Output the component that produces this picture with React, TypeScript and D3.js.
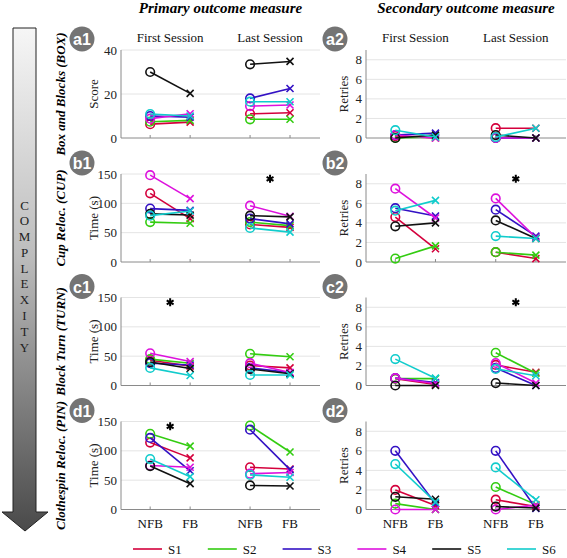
import React from "react";
import * as d3 from "d3";

// ---------- data ----------
const subjects = ["S1", "S2", "S3", "S4", "S5", "S6"];
const subjectColors = ["#d4003c", "#33cc11", "#3311c4", "#dd11dd", "#111111", "#11cccc"];
const sessions = ["First Session", "Last Session"];
const conditions = ["NFB", "FB"];
const rowTitles = ["Box and Blocks (BOX)", "Cup Reloc. (CUP)", "Block Turn (TURN)", "Clothespin Reloc. (PIN)"];
const rowBadges = ["a", "b", "c", "d"];
const primaryLabels = ["Score", "Time (s)", "Time (s)", "Time (s)"];
const primaryMax = [40, 150, 150, 150];
const primaryTicks = [[0, 20, 40], [0, 50, 100, 150], [0, 50, 100, 150], [0, 50, 100, 150]];
const secondaryLabel = "Retries";
const secondaryMax = 9;
const secondaryTicks = [0, 2, 4, 6, 8];

// values per subject: [NFB first, FB first, NFB last, FB last]
const a1Score = [
  [6.3, 7.2, 11, 11.5],
  [7.4, 8, 8.5, 8.5],
  [10, 9.5, 18, 22.5],
  [8.8, 11, 14.5, 15],
  [30, 20.3, 33.5, 34.8],
  [10.9, 10, 16.5, 16.5],
];
const a2Retries = [
  [0.2, 0, 1, 1],
  [0, 0.1, 0, 0],
  [0.3, 0.5, 0, 0],
  [0.3, 0, 0, 0],
  [0, 0.3, 0.3, 0],
  [0.8, 0.1, 0.1, 1],
];
const b1Time = [
  [117, 74, 64, 59],
  [68, 66, 68, 62],
  [91, 88, 74, 65],
  [148, 108, 96, 78],
  [82, 80, 79, 77],
  [79, 87, 58, 51],
];
const b2Retries = [
  [4.6, 1.35, 1.0, 0.35],
  [0.35, 1.65, 1.0, 0.7],
  [5.5, 4.7, 5.35, 2.65],
  [7.5, 4.5, 6.5, 2.5],
  [3.65, 4.0, 4.25, 2.4],
  [5.25, 6.3, 2.65, 2.4],
];
const c1Time = [
  [43, 33, 34, 30],
  [45, 38, 54, 49],
  [38, 35, 30, 22],
  [55, 41, 38, 22],
  [40, 29, 28, 20],
  [30, 17, 18, 18],
];
const c2Retries = [
  [0.7, 0.1, 2.1, 1.35],
  [0.7, 0.7, 3.35, 1.25],
  [0.75, 0.3, 1.8, 0],
  [0.75, 0.2, 2.3, 0.25],
  [0, 0, 0.25, 0],
  [2.7, 0.75, 1.7, 1.0],
];
const d1Time = [
  [114, 88, 72, 69],
  [129, 108, 143, 98],
  [122, 66, 136, 68],
  [75, 72, 61, 63],
  [74, 44, 41, 40],
  [86, 56, 59, 55],
];
const d2Retries = [
  [2.0, 0.4, 1.0, 0.3],
  [0.6, 0, 2.3, 0.5],
  [6.0, 0.6, 6.0, 0.1],
  [0, 0, 0, 0.45],
  [1.3, 1.05, 0.3, 0.15],
  [4.65, 0.75, 4.3, 1.0],
];
const primaryData = [a1Score, b1Time, c1Time, d1Time];
const secondaryData = [a2Retries, b2Retries, c2Retries, d2Retries];
// significance: [row, column(0 primary,1 secondary), session]
const significance = [
  [1, 0, 1],
  [2, 0, 0],
  [3, 0, 0],
  [1, 1, 1],
  [2, 1, 1],
];
const complexityWord = "COMPLEXITY";

// ---------- layout ----------
const W = 567;
const H = 558;
const rowTops = [50, 174, 297.5, 421.5];
const rowH = 88;
const colRanges = [
  [121, 320],
  [366, 566],
];
const serif = "Liberation Serif, Times New Roman, serif";
const sans = "Liberation Sans, Arial, sans-serif";
const gridColor = "#e4e4e4";
const axisColor = "#8a8a8a";

const xPosOf = (session: number, cond: number) => 1 + cond + session * 2.5;

function Panel({ row, col }: { row: number; col: number }) {
  const [x0, x1] = colRanges[col];
  const top = rowTops[row];
  const bottom = top + rowH;
  const x = d3.scaleLinear().domain([0.27, 5.25]).range([x0, x1]);
  const yMax = col === 0 ? primaryMax[row] : secondaryMax;
  const ticks = col === 0 ? primaryTicks[row] : secondaryTicks;
  const y = d3.scaleLinear().domain([0, yMax]).range([bottom, top]);
  const data = col === 0 ? primaryData[row] : secondaryData[row];
  const line = d3
    .line<[number, number]>()
    .x((d) => d[0])
    .y((d) => d[1]);
  const ylab = col === 0 ? primaryLabels[row] : secondaryLabel;
  const ylabX = col === 0 ? 93 : 343;
  const badgeX = col === 0 ? 82 : 335;
  const sigs = significance.filter((s) => s[0] === row && s[1] === col);
  const asterisk = d3.symbol(d3.symbolAsterisk, 44)();
  return (
    <g>
      {ticks.map((t) => (
        <g key={t}>
          {t > 0 && <line x1={x0} x2={x1} y1={y(t)} y2={y(t)} stroke={gridColor} strokeWidth={1} />}
          <text x={x0 - 4} y={y(t)} textAnchor="end" dominantBaseline="central" fontFamily={serif} fontSize={13} fill="#222">
            {t}
          </text>
        </g>
      ))}
      <line x1={x0} x2={x0} y1={top} y2={bottom} stroke={axisColor} strokeWidth={1} />
      <line x1={x0} x2={x1} y1={bottom} y2={bottom} stroke={axisColor} strokeWidth={1} />
      {sessions.map((s, si) =>
        conditions.map((c, ci) => (
          <line key={s + c} x1={x(xPosOf(si, ci))} x2={x(xPosOf(si, ci))} y1={bottom} y2={bottom - 3} stroke={axisColor} />
        ))
      )}
      <text
        transform={`translate(${ylabX},${(top + bottom) / 2}) rotate(-90)`}
        textAnchor="middle"
        dominantBaseline="central"
        fontFamily={serif}
        fontSize={13}
        fill="#222"
      >
        {ylab}
      </text>
      <circle cx={badgeX} cy={top - 11} r={12.5} fill="#747474" />
      <text x={badgeX} y={top - 10.5} textAnchor="middle" dominantBaseline="central" fontFamily={sans} fontWeight="bold" fontSize={16} fill="#fff">
        {rowBadges[row] + (col + 1)}
      </text>
      {row === 0 &&
        sessions.map((s, si) => (
          <text key={s} x={x(xPosOf(si, 0.5))} y={42} textAnchor="middle" fontFamily={serif} fontSize={13} fill="#111">
            {s}
          </text>
        ))}
      {row === 3 &&
        sessions.map((s, si) =>
          conditions.map((c, ci) => (
            <text key={s + c} x={x(xPosOf(si, ci))} y={523} textAnchor="middle" dominantBaseline="central" fontFamily={serif} fontSize={13} fill="#111">
              {c}
            </text>
          ))
        )}
      {data.map((vals, subj) => {
        const color = subjectColors[subj];
        return (
          <g key={subj}>
            {sessions.map((s, si) => {
              const p0: [number, number] = [x(xPosOf(si, 0)), y(vals[si * 2])];
              const p1: [number, number] = [x(xPosOf(si, 1)), y(vals[si * 2 + 1])];
              return (
                <g key={s}>
                  <path d={line([p0, p1]) || ""} stroke={color} strokeWidth={1.6} fill="none" />
                  <circle cx={p0[0]} cy={p0[1]} r={4.3} fill="none" stroke={color} strokeWidth={1.6} />
                  <path
                    d={`M${p1[0] - 3.5},${p1[1] - 3.5}L${p1[0] + 3.5},${p1[1] + 3.5}M${p1[0] - 3.5},${p1[1] + 3.5}L${p1[0] + 3.5},${p1[1] - 3.5}`}
                    stroke={color}
                    strokeWidth={1.6}
                  />
                </g>
              );
            })}
          </g>
        );
      })}
      {sigs.map((s, i) => (
        <path
          key={i}
          d={asterisk || ""}
          transform={`translate(${x(xPosOf(s[2], 0.5))},${y(yMax * 0.945)})`}
          stroke="#000"
          strokeWidth={2}
          fill="none"
        />
      ))}
    </g>
  );
}

export default function App() {
  const legendY = 549;
  const legendStep = 74.8;
  const shaftTop = 28;
  const shaftBottom = 512;
  const letterScale = d3.scaleLinear().domain([0, complexityWord.length - 1]).range([205, 347]);
  return (
    <svg width={W} height={H} style={{ position: "absolute", left: 0, top: 0, background: "#fff" }}>
      <defs>
        <linearGradient id="arrowGrad" gradientUnits="userSpaceOnUse" x1={0} y1={shaftTop} x2={0} y2={530}>
          <stop offset="0" stopColor="#f6f6f6" />
          <stop offset="0.45" stopColor="#bdbdbd" />
          <stop offset="1" stopColor="#4a4a4a" />
        </linearGradient>
      </defs>
      <rect width={W} height={H} fill="#fff" />
      <path
        d={`M13,${shaftTop}L36,${shaftTop}L36,${shaftBottom}L48,${shaftBottom}L25,531L2,${shaftBottom}L13,${shaftBottom}Z`}
        fill="url(#arrowGrad)"
        stroke="#222"
        strokeWidth={1}
      />
      {complexityWord.split("").map((ch, i) => (
        <text key={i} x={24.5} y={letterScale(i)} textAnchor="middle" dominantBaseline="central" fontFamily={serif} fontSize={13} fill="#222">
          {ch}
        </text>
      ))}
      <text x={220.5} y={13} textAnchor="middle" fontFamily={serif} fontWeight="bold" fontStyle="italic" fontSize={15} fill="#000">
        Primary outcome measure
      </text>
      <text x={466} y={13} textAnchor="middle" fontFamily={serif} fontWeight="bold" fontStyle="italic" fontSize={15} fill="#000">
        Secondary outcome measure
      </text>
      {rowTitles.map((t, r) => (
        <text
          key={t}
          transform={`translate(60,${rowTops[r] + rowH / 2}) rotate(-90)`}
          textAnchor="middle"
          dominantBaseline="central"
          fontFamily={serif}
          fontWeight="bold"
          fontStyle="italic"
          fontSize={13}
          fill="#000"
        >
          {t}
        </text>
      ))}
      {rowTops.map((_, r) => (
        <g key={r}>
          <Panel row={r} col={0} />
          <Panel row={r} col={1} />
        </g>
      ))}
      {subjects.map((s, i) => {
        const lx = 133 + i * legendStep;
        return (
          <g key={s}>
            <line x1={lx} x2={lx + 29} y1={legendY} y2={legendY} stroke={subjectColors[i]} strokeWidth={1.6} />
            <text x={lx + 35} y={legendY} dominantBaseline="central" fontFamily={serif} fontSize={13} fill="#111">
              {s}
            </text>
          </g>
        );
      })}
    </svg>
  );
}
